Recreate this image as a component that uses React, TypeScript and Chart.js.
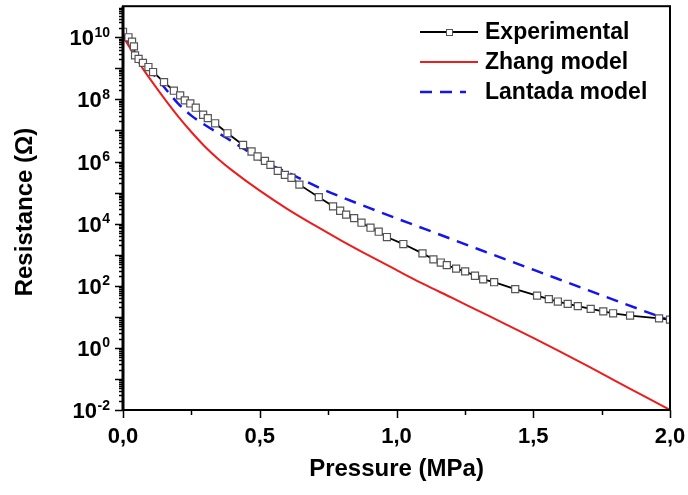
import React, { useEffect, useRef } from 'react';
import { Chart, registerables } from 'chart.js';

Chart.register(...registerables);

// ---------- data ----------
const expPressure = [0, 0.020, 0.033, 0.040, 0.044, 0.057, 0.073, 0.093, 0.110, 0.150, 0.186, 0.209, 0.226, 0.246, 0.266, 0.293, 0.310, 0.337, 0.382, 0.439, 0.470, 0.492, 0.519, 0.539, 0.566, 0.592, 0.616, 0.645, 0.716, 0.768, 0.794, 0.816, 0.845, 0.872, 0.905, 0.935, 0.965, 1.025, 1.095, 1.135, 1.162, 1.184, 1.218, 1.251, 1.287, 1.317, 1.357, 1.434, 1.514, 1.557, 1.590, 1.626, 1.663, 1.710, 1.756, 1.792, 1.854, 1.960, 2.000];
const expResistance = [1.5e10, 1.0e10, 7.2e9, 5.1e9, 2.6e9, 2.0e9, 1.5e9, 1.1e9, 7.6e8, 3.6e8, 1.9e8, 1.35e8, 9.3e7, 7.4e7, 5.4e7, 3.2e7, 2.5e7, 1.7e7, 8.1e6, 3.4e6, 2.1e6, 1.45e6, 1.05e6, 7.8e5, 5.0e5, 3.7e5, 3.0e5, 1.8e5, 7.1e4, 3.6e4, 2.6e4, 1.95e4, 1.5e4, 1.07e4, 7.4e3, 5.5e3, 3.7e3, 2.2e3, 1.1e3, 710, 560, 460, 355, 290, 210, 160, 130, 78, 48, 37, 31, 26, 22, 18, 15, 13, 11, 8.9, 8.1];

const zhangPressure = [0, 0.025, 0.05, 0.075, 0.1, 0.15, 0.2, 0.25, 0.3, 0.35, 0.4, 0.5, 0.6, 0.7, 0.8, 0.9, 1.0, 1.1, 1.2, 1.3, 1.4, 1.5, 1.6, 1.7, 1.8, 1.9, 2.0];
const zhangResistance = [1.1e10, 4.6e9, 2.0e9, 9.1e8, 4.4e8, 1.1e8, 2.95e7, 8.9e6, 3.0e6, 1.17e6, 5.1e5, 1.15e5, 3.0e4, 8.9e3, 2.8e3, 930, 320, 112, 42, 15.5, 5.75, 2.1, 0.74, 0.257, 0.087, 0.0295, 0.01];

const lantadaPressure = [0, 0.05, 0.1, 0.15, 0.2, 0.25, 0.3, 0.38, 0.45, 0.52, 0.6, 0.72, 0.9, 1.1, 1.3, 1.5, 1.7, 1.9, 2.0];
const lantadaResistance = [1.1e10, 2.5e9, 8.3e8, 2.5e8, 7.6e7, 3.0e7, 1.5e7, 5.6e6, 2.3e6, 9.3e5, 4.5e5, 1.4e5, 3.2e4, 6.9e3, 1.5e3, 330, 72, 16, 7.6];

const seriesNames = ['Experimental', 'Zhang model', 'Lantada model'];

const xTickValues = [0, 0.5, 1.0, 1.5, 2.0];
const xTickLabels = ['0,0', '0,5', '1,0', '1,5', '2,0'];
const yTickExponents = [-2, 0, 2, 4, 6, 8, 10];
const yTickExponentLabels = ['-2', '0', '2', '4', '6', '8', '10'];

const xTitle = 'Pressure (MPa)';
const yTitle = 'Resistance (\u03A9)';

const X_MIN = 0;
const X_MAX = 2;
const Y_MIN = 0.01;
const Y_MAX = 1e11;

const FONT = '"Liberation Sans", Arial, Helvetica, sans-serif';
const RED = '#ee1c1c';
const BLUE = '#1414ee';

const toPoints = (xs: number[], ys: number[]) => xs.map((x, i) => ({ x, y: ys[i] }));

const decorPlugin = {
  id: 'decor',
  afterDatasetsDraw(chart: any) {
    const { ctx, chartArea: a, scales } = chart;
    const xs = scales.x;
    const ys = scales.y;
    ctx.save();
    ctx.strokeStyle = '#000';
    ctx.fillStyle = '#000';

    // frame
    ctx.lineWidth = 2;
    ctx.strokeRect(a.left, a.top, a.right - a.left, a.bottom - a.top);
    ctx.lineWidth = 3;
    ctx.beginPath();
    ctx.moveTo(a.left, a.top);
    ctx.lineTo(a.left, a.bottom + 1);
    ctx.stroke();

    // y ticks (log)
    ctx.lineWidth = 1.5;
    ctx.beginPath();
    const eMin = Math.round(Math.log10(Y_MIN));
    const eMax = Math.round(Math.log10(Y_MAX));
    for (let e = eMin; e < eMax; e++) {
      for (let m = 1; m <= 9; m++) {
        const v = m * Math.pow(10, e);
        const py = Math.round(ys.getPixelForValue(v)) + 0.5;
        const len = m === 1 ? 8 : 4;
        ctx.moveTo(a.left, py);
        ctx.lineTo(a.left - len, py);
      }
    }
    // x ticks
    for (let i = 0; i < xTickValues.length; i++) {
      const px = Math.round(xs.getPixelForValue(xTickValues[i])) + 0.5;
      ctx.moveTo(px, a.bottom);
      ctx.lineTo(px, a.bottom + 8);
      if (i < xTickValues.length - 1) {
        const mid = (xTickValues[i] + xTickValues[i + 1]) / 2;
        const pm = Math.round(xs.getPixelForValue(mid)) + 0.5;
        ctx.moveTo(pm, a.bottom);
        ctx.lineTo(pm, a.bottom + 5);
      }
    }
    ctx.stroke();

    // y tick labels: 10^n
    const labelRight = a.left - 13;
    yTickExponents.forEach((e, i) => {
      const py = ys.getPixelForValue(Math.pow(10, e));
      ctx.textAlign = 'right';
      ctx.textBaseline = 'alphabetic';
      ctx.font = `bold 14px ${FONT}`;
      const sup = yTickExponentLabels[i];
      const supW = ctx.measureText(sup).width;
      ctx.fillText(sup, labelRight, py - 0.5);
      ctx.font = `bold 22px ${FONT}`;
      ctx.fillText('10', labelRight - supW - 0.5, py + 8);
    });

    // x tick labels
    ctx.font = `bold 22px ${FONT}`;
    ctx.textAlign = 'center';
    ctx.textBaseline = 'middle';
    xTickValues.forEach((v, i) => {
      ctx.fillText(xTickLabels[i], xs.getPixelForValue(v), a.bottom + 27);
    });

    // axis titles
    ctx.font = `bold 24px ${FONT}`;
    ctx.fillText(xTitle, (a.left + a.right) / 2, 469);
    ctx.save();
    ctx.translate(25, 212);
    ctx.rotate(-Math.PI / 2);
    ctx.fillText(yTitle, 0, 0);
    ctx.restore();

    // legend
    const lx0 = 420;
    const lx1 = 478;
    const rows = [33, 63, 93];
    ctx.font = `bold 23px ${FONT}`;
    ctx.textAlign = 'left';
    ctx.textBaseline = 'middle';
    chart.data.datasets.forEach((ds: any, i: number) => {
      const y = rows[i];
      ctx.save();
      ctx.strokeStyle = ds.borderColor;
      ctx.lineWidth = ds.borderWidth;
      ctx.setLineDash(ds.borderDash || []);
      ctx.beginPath();
      ctx.moveTo(lx0, y - 1);
      ctx.lineTo(ds.borderDash ? 466 : lx1, y - 1);
      ctx.stroke();
      ctx.setLineDash([]);
      if (ds.pointRadius > 0) {
        ctx.fillStyle = '#fff';
        ctx.strokeStyle = ds.pointBorderColor;
        ctx.lineWidth = 1;
        ctx.fillRect(446, y - 4, 6, 6);
        ctx.strokeRect(446.5, y - 3.5, 6, 6);
      }
      ctx.restore();
      ctx.fillText(seriesNames[i], 485, y);
    });

    ctx.restore();
  },
};

export default function App() {
  const ref = useRef<HTMLCanvasElement | null>(null);

  useEffect(() => {
    if (!ref.current) return;
    const chart = new Chart(ref.current, {
      type: 'line',
      data: {
        datasets: [
          {
            label: seriesNames[0],
            data: toPoints(expPressure, expResistance),
            borderColor: '#000',
            borderWidth: 1.8,
            pointStyle: 'rect',
            pointRadius: 5,
            pointBackgroundColor: '#fff',
            pointBorderColor: '#555',
            pointBorderWidth: 1.2,
            tension: 0,
          },
          {
            label: seriesNames[1],
            data: toPoints(zhangPressure, zhangResistance),
            borderColor: RED,
            borderWidth: 2,
            pointRadius: 0,
            cubicInterpolationMode: 'monotone',
          },
          {
            label: seriesNames[2],
            data: toPoints(lantadaPressure, lantadaResistance),
            borderColor: BLUE,
            borderWidth: 2.5,
            borderDash: [12, 8],
            pointRadius: 0,
            cubicInterpolationMode: 'monotone',
          },
        ] as any,
      },
      options: {
        responsive: false,
        animation: false,
        parsing: false as any,
        layout: { padding: { left: 0, top: 4, right: 18, bottom: 0 } },
        plugins: { legend: { display: false }, tooltip: { enabled: false } },
        scales: {
          x: {
            type: 'linear',
            min: X_MIN,
            max: X_MAX,
            grid: { display: false },
            border: { display: false },
            ticks: { display: false },
            afterFit: (s: any) => { s.height = 85; },
          },
          y: {
            type: 'logarithmic',
            min: Y_MIN,
            max: Y_MAX,
            grid: { display: false },
            border: { display: false },
            ticks: { display: false },
            afterFit: (s: any) => { s.width = 123; },
          },
        },
      },
      plugins: [decorPlugin],
    });
    return () => chart.destroy();
  }, []);

  return (
    <div style={{ position: 'fixed', left: 0, top: 0, width: 688, height: 495, background: '#fff' }}>
      <canvas ref={ref} width={688} height={495} />
    </div>
  );
}
